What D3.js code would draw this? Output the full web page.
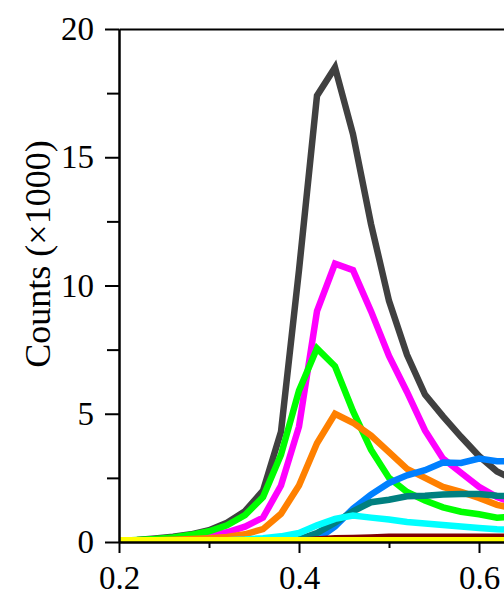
<!DOCTYPE html>
<html>
<head>
<meta charset="utf-8">
<script src="https://cdn.jsdelivr.net/npm/d3@7"></script>
<style>
  body { margin: 0; background: #fff; }
  svg { display: block; }
  text { font-family: "Liberation Serif", "Times New Roman", serif; fill: #000; }
</style>
</head>
<body>
<div id="chart"></div>
<script>
// x positions of the sampled points
const xs = [0.20, 0.22, 0.24, 0.26, 0.28, 0.30, 0.32, 0.34, 0.36, 0.38, 0.40, 0.42,
            0.44, 0.46, 0.48, 0.50, 0.52, 0.54, 0.56, 0.58, 0.60, 0.62, 0.64];

// counts (x1000), one array per curve
const gray    = [0.05, 0.08, 0.14, 0.21, 0.30, 0.46, 0.75, 1.20, 2.00, 4.30, 10.6, 17.4,
                 18.5, 15.9, 12.4, 9.40, 7.30, 5.75, 4.90, 4.10, 3.35, 2.75, 2.40];
const magenta = [0.04, 0.06, 0.09, 0.13, 0.18, 0.26, 0.38, 0.60, 0.95, 2.20, 4.50, 9.00,
                 10.85, 10.6, 9.00, 7.25, 5.85, 4.35, 3.25, 2.70, 2.15, 1.75, 1.50];
const green   = [0.05, 0.08, 0.12, 0.18, 0.28, 0.42, 0.65, 1.05, 1.75, 3.40, 5.90, 7.55,
                 6.85, 5.10, 3.60, 2.50, 1.95, 1.62, 1.35, 1.18, 1.08, 0.95, 1.00];
const orange  = [0.04, 0.05, 0.07, 0.09, 0.12, 0.15, 0.20, 0.30, 0.50, 1.10, 2.20, 3.85,
                 5.00, 4.65, 4.15, 3.50, 2.85, 2.50, 2.15, 1.95, 1.72, 1.45, 1.30];
const blue    = [0, 0, 0, 0, 0, 0, 0, 0, 0, 0, 0.02, 0.10,
                 0.60, 1.30, 1.85, 2.30, 2.60, 2.80, 3.10, 3.08, 3.25, 3.15, 3.15];
const teal    = [0, 0, 0, 0, 0, 0, 0, 0, 0.01, 0.02, 0.10, 0.35,
                 0.75, 1.20, 1.55, 1.65, 1.78, 1.80, 1.85, 1.87, 1.87, 1.80, 1.78];
const cyan    = [0.02, 0.02, 0.03, 0.03, 0.04, 0.05, 0.07, 0.10, 0.15, 0.22, 0.35, 0.65,
                 0.90, 1.03, 0.95, 0.88, 0.78, 0.72, 0.66, 0.60, 0.55, 0.50, 0.47];
const darkred = [0.02, 0.02, 0.02, 0.02, 0.03, 0.03, 0.03, 0.03, 0.03, 0.03, 0.05, 0.10,
                 0.15, 0.16, 0.18, 0.20, 0.20, 0.20, 0.20, 0.20, 0.20, 0.20, 0.20];
const yellow  = [0.07, 0.07, 0.07, 0.07, 0.07, 0.07, 0.07, 0.07, 0.07, 0.07, 0.07, 0.07,
                 0.07, 0.07, 0.07, 0.07, 0.07, 0.07, 0.07, 0.07, 0.07, 0.07, 0.07];

// drawing order: later curves sit on top
const seriesList = [
  { values: gray,    color: '#404040' },
  { values: magenta, color: '#ff00ff' },
  { values: green,   color: '#00ff00' },
  { values: orange,  color: '#ff8000' },
  { values: blue,    color: '#0080ff' },
  { values: teal,    color: '#008080' },
  { values: cyan,    color: '#00ffff' },
  { values: darkred, color: '#800000' },
  { values: yellow,  color: '#ffff00' }
];

const xMajor = [0.2, 0.4, 0.6, 0.8, 1.0];
const xMinor = [0.3, 0.5, 0.7, 0.9];
const yMajor = [0, 5, 10, 15, 20];
const yMinor = [2.5, 7.5, 12.5, 17.5];

const W = 504, H = 594;
const plotLeft = 119, plotTop = 29, plotBottom = 542;

const x = d3.scaleLinear().domain([0.2, 1.0]).range([plotLeft, plotLeft + 720]);
const y = d3.scaleLinear().domain([0, 20]).range([plotBottom, plotTop]);

const svg = d3.select('#chart').append('svg')
  .attr('width', W)
  .attr('height', H);

svg.append('clipPath').attr('id', 'plot-clip')
  .append('rect')
  .attr('x', plotLeft).attr('y', plotTop - 5)
  .attr('width', 720).attr('height', plotBottom - plotTop + 5);

// curves
const line = d3.line()
  .x((d, i) => x(xs[i]))
  .y(d => y(d));

const curves = svg.append('g').attr('clip-path', 'url(#plot-clip)');
seriesList.forEach(s => {
  curves.append('path')
    .datum(s.values)
    .attr('fill', 'none')
    .attr('stroke', s.color)
    .attr('stroke-width', 6.5)
    .attr('stroke-linejoin', 'miter')
    .attr('d', line);
});

function styleAxis(g) {
  g.selectAll('path.domain').attr('stroke', '#000').attr('stroke-width', 2);
  g.selectAll('.tick line').attr('stroke', '#000').attr('stroke-width', 2);
  g.selectAll('.tick text')
    .style('font-family', '"Liberation Serif", "Times New Roman", serif')
    .style('font-size', '33px')
    .attr('fill', '#000');
}

// bottom axis
svg.append('g')
  .attr('transform', `translate(0,${plotBottom})`)
  .call(d3.axisBottom(x).tickValues(xMinor).tickSize(6).tickSizeOuter(0).tickFormat(''))
  .call(styleAxis);
svg.append('g')
  .attr('transform', `translate(0,${plotBottom})`)
  .call(d3.axisBottom(x).tickValues(xMajor).tickSize(11).tickSizeOuter(0).tickPadding(13)
    .tickFormat(d3.format('.1f')))
  .call(styleAxis);

// left axis
svg.append('g')
  .attr('transform', `translate(${plotLeft},0)`)
  .call(d3.axisLeft(y).tickValues(yMinor).tickSize(12).tickSizeOuter(0).tickFormat(''))
  .call(styleAxis);
svg.append('g')
  .attr('transform', `translate(${plotLeft},0)`)
  .call(d3.axisLeft(y).tickValues(yMajor).tickSize(14).tickSizeOuter(0).tickPadding(11)
    .tickFormat(d3.format('d')))
  .call(styleAxis);

// top frame
svg.append('g')
  .attr('transform', `translate(0,${plotTop})`)
  .call(d3.axisTop(x).tickValues([]).tickSizeOuter(0))
  .call(styleAxis);

// y axis title
svg.append('text')
  .attr('transform', `translate(50,254) rotate(-90)`)
  .attr('text-anchor', 'middle')
  .style('font-size', '36px')
  .text('Counts (×1000)');
</script>
</body>
</html>
